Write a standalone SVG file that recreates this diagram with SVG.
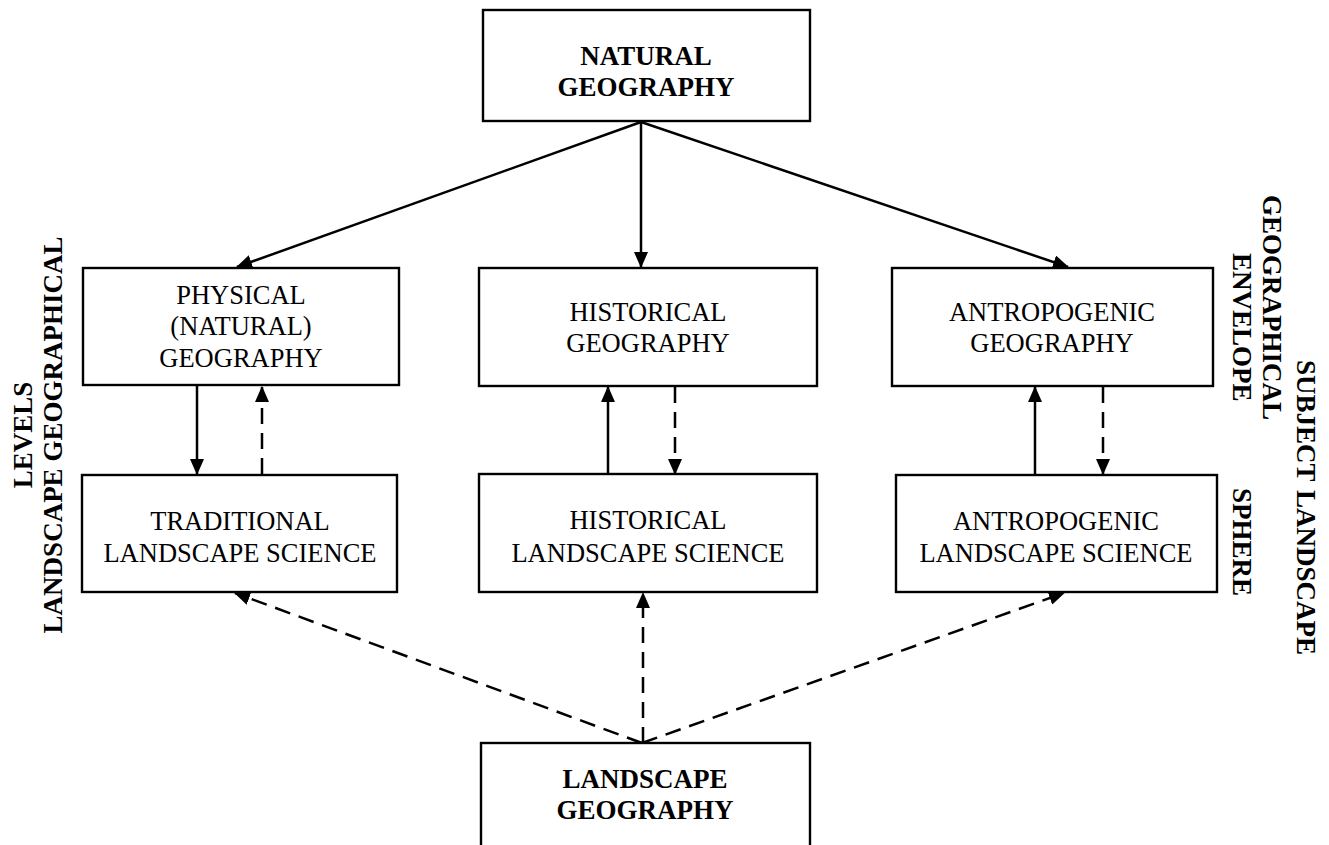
<svg xmlns="http://www.w3.org/2000/svg" width="1329" height="845" viewBox="0 0 1329 845">
<style>
.box{fill:#fff;stroke:#000;stroke-width:2.4}
.t{font-family:"Liberation Serif","Times New Roman",serif;font-size:26.5px;fill:#000;text-anchor:middle}
.b{font-family:"Liberation Serif","Times New Roman",serif;font-size:27px;font-weight:bold;fill:#000}
.c{text-anchor:middle}
.ln{stroke:#000;stroke-width:2.5;fill:none}
.d{stroke-dasharray:16 9}
</style>
<defs>
<marker id="ah" viewBox="0 0 16 14" refX="15" refY="7" markerWidth="16" markerHeight="14" markerUnits="userSpaceOnUse" orient="auto">
<path d="M0,0 L16,7 L0,14 z" fill="#000"/>
</marker>
</defs>
<rect width="1329" height="845" fill="#fff"/>
<g id="connectors">
<line class="ln" x1="641" y1="122" x2="237" y2="267" marker-end="url(#ah)"/>
<line class="ln" x1="641" y1="122" x2="641" y2="267" marker-end="url(#ah)"/>
<line class="ln" x1="641" y1="122" x2="1068" y2="267" marker-end="url(#ah)"/>
<line class="ln" x1="197" y1="386" x2="197" y2="474" marker-end="url(#ah)"/>
<line class="ln d" x1="262" y1="474" x2="262" y2="387" marker-end="url(#ah)"/>
<line class="ln" x1="608" y1="474" x2="608" y2="387" marker-end="url(#ah)"/>
<line class="ln d" x1="675" y1="387" x2="675" y2="474" marker-end="url(#ah)"/>
<line class="ln" x1="1035" y1="474" x2="1035" y2="387" marker-end="url(#ah)"/>
<line class="ln d" x1="1103" y1="387" x2="1103" y2="474" marker-end="url(#ah)"/>
<line class="ln d" x1="642" y1="743" x2="235" y2="593" marker-end="url(#ah)"/>
<line class="ln d" x1="643" y1="743" x2="643" y2="593" marker-end="url(#ah)"/>
<line class="ln d" x1="642" y1="743" x2="1064" y2="593" marker-end="url(#ah)"/>
</g>
<g id="natural-geography">
<rect class="box" x="483" y="10" width="327" height="111"/>
<text class="b c" x="646" y="65">NATURAL</text>
<text class="b c" x="646" y="96">GEOGRAPHY</text>
</g>
<g id="physical-geography">
<rect class="box" x="83" y="268" width="316" height="117"/>
<text class="t" x="241" y="304">PHYSICAL</text>
<text class="t" x="241" y="335">(NATURAL)</text>
<text class="t" x="241" y="367">GEOGRAPHY</text>
</g>
<g id="historical-geography">
<rect class="box" x="479" y="268" width="338" height="118"/>
<text class="t" x="648" y="321">HISTORICAL</text>
<text class="t" x="648" y="352">GEOGRAPHY</text>
</g>
<g id="antropogenic-geography">
<rect class="box" x="892" y="268" width="321" height="118"/>
<text class="t" x="1052" y="321">ANTROPOGENIC</text>
<text class="t" x="1052" y="352">GEOGRAPHY</text>
</g>
<g id="traditional-ls">
<rect class="box" x="82" y="475" width="315" height="117"/>
<text class="t" x="240" y="530">TRADITIONAL</text>
<text class="t" x="240" y="562">LANDSCAPE SCIENCE</text>
</g>
<g id="historical-ls">
<rect class="box" x="479" y="474" width="338" height="118"/>
<text class="t" x="648" y="529">HISTORICAL</text>
<text class="t" x="648" y="562">LANDSCAPE SCIENCE</text>
</g>
<g id="antropogenic-ls">
<rect class="box" x="896" y="475" width="321" height="117"/>
<text class="t" x="1056" y="530">ANTROPOGENIC</text>
<text class="t" x="1056" y="562">LANDSCAPE SCIENCE</text>
</g>
<g id="landscape-geography">
<rect class="box" x="481" y="743" width="329" height="110"/>
<text class="b c" x="645" y="788">LANDSCAPE</text>
<text class="b c" x="645" y="819">GEOGRAPHY</text>
</g>
<g id="left-label">
<text class="b c" transform="translate(32,435) rotate(-90)">LEVELS</text>
<text class="b c" transform="translate(62,435) rotate(-90)">LANDSCAPE GEOGRAPHICAL</text>
</g>
<g id="right-label">
<text class="b" transform="translate(1297,360) rotate(90)">SUBJECT</text>
<text class="b" transform="translate(1297,490) rotate(90)">LANDSCAPE</text>
<text class="b" transform="translate(1263,195) rotate(90)">GEOGRAPHICAL</text>
<text class="b" transform="translate(1233,253) rotate(90)">ENVELOPE</text>
<text class="b" transform="translate(1233,488) rotate(90)">SPHERE</text>
</g>
</svg>
